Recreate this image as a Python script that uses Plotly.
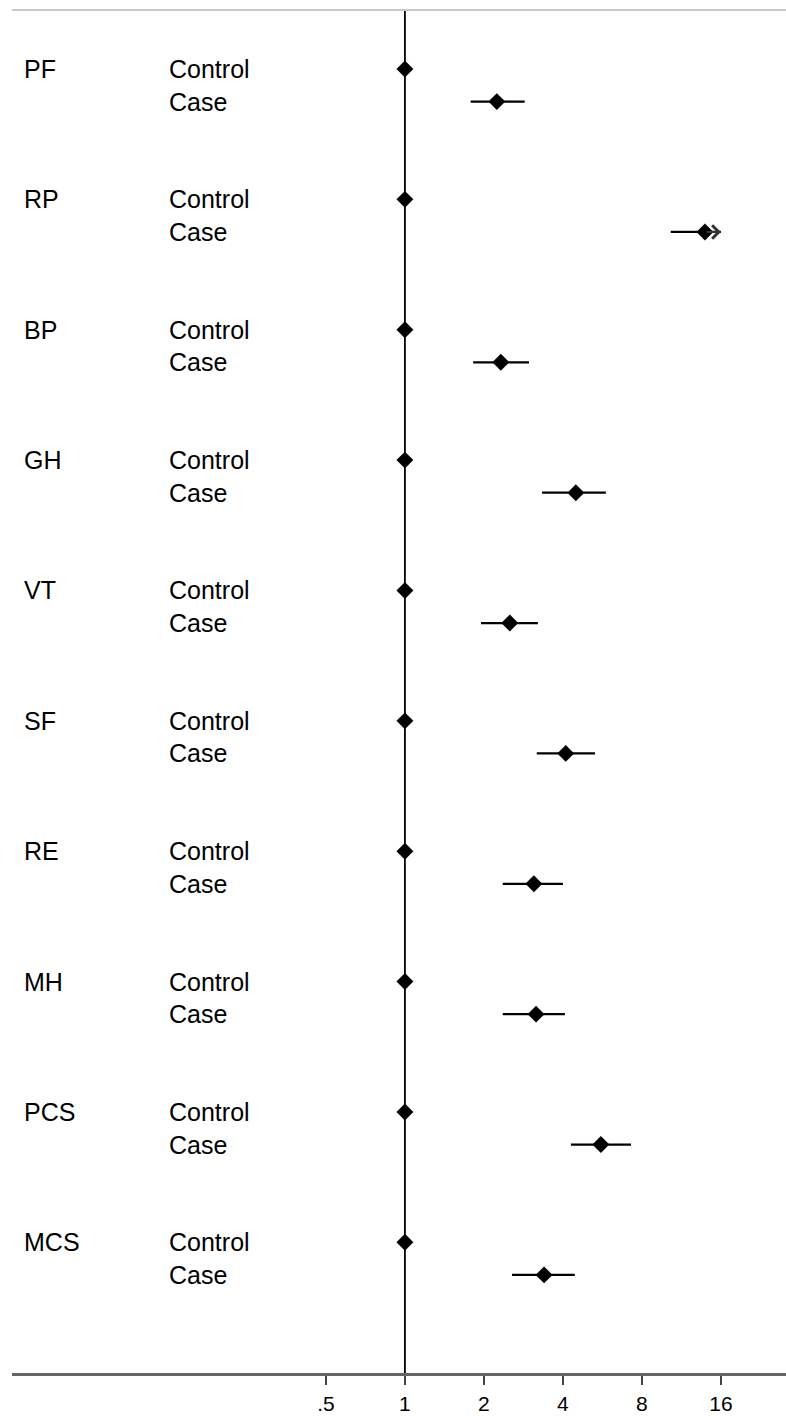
import math
import plotly.graph_objects as go

groups = ["PF", "RP", "BP", "GH", "VT", "SF", "RE", "MH", "PCS", "MCS"]
control_or = [1, 1, 1, 1, 1, 1, 1, 1, 1, 1]
case_or = [2.24, 13.9, 2.32, 4.48, 2.51, 4.10, 3.10, 3.16, 5.58, 3.39]
case_lo = [1.78, 10.3, 1.82, 3.33, 1.95, 3.18, 2.36, 2.36, 4.29, 2.56]
case_hi = [2.86, 20.0, 2.97, 5.83, 3.21, 5.30, 4.00, 4.07, 7.27, 4.44]
tick_vals = [0.5, 1, 2, 4, 8, 16]
tick_text = [".5", "1", "2", "4", "8", "16"]
x_max = 16  # upper limit of the CI display
ref_value = 1

y_top, y_bottom = -1.81, 40.01

fig = go.Figure()

ctrl_y = [4 * i for i in range(len(groups))]
case_y = [4 * i + 1 for i in range(len(groups))]

# reference line at 1
fig.add_trace(go.Scatter(x=[ref_value, ref_value], y=[y_top, y_bottom], mode="lines",
                         line=dict(color="black", width=1.8), showlegend=False,
                         hoverinfo="skip", cliponaxis=False))

# CI lines
for i in range(len(groups)):
    hi = min(case_hi[i], x_max)
    fig.add_trace(go.Scatter(x=[case_lo[i], hi], y=[case_y[i], case_y[i]],
                             mode="lines", line=dict(color="black", width=2.2),
                             showlegend=False, hoverinfo="skip"))
    if case_hi[i] > x_max:
        fig.add_annotation(x=math.log10(x_max), y=case_y[i], xref="x", yref="y",
                           ax=math.log10(case_or[i]), ay=case_y[i], axref="x", ayref="y",
                           showarrow=True, arrowhead=4, arrowsize=1.3, arrowwidth=2,
                           arrowcolor="#333", text="")

fig.add_trace(go.Scatter(x=control_or, y=ctrl_y, mode="markers",
                         marker=dict(symbol="diamond", size=13, color="black"),
                         showlegend=False))
fig.add_trace(go.Scatter(x=case_or, y=case_y, mode="markers",
                         marker=dict(symbol="diamond", size=13, color="black"),
                         showlegend=False))

font = dict(family="Liberation Sans, Arial, sans-serif", size=25, color="#000")
for i, g in enumerate(groups):
    fig.add_annotation(x=0.0129, y=ctrl_y[i], xref="paper", yref="y", text=g,
                       showarrow=False, xanchor="left", yanchor="middle", font=font)
    fig.add_annotation(x=0.2003, y=ctrl_y[i], xref="paper", yref="y", text="Control",
                       showarrow=False, xanchor="left", yanchor="middle", font=font)
    fig.add_annotation(x=0.2003, y=case_y[i], xref="paper", yref="y", text="Case",
                       showarrow=False, xanchor="left", yanchor="middle", font=font)

# top border
fig.add_shape(type="line", xref="paper", yref="paper", x0=0, x1=1, y0=1, y1=1,
              line=dict(color="#c8c8c8", width=2))

fig.update_layout(
    width=786, height=1416,
    margin=dict(l=12, r=0, t=10, b=43),
    plot_bgcolor="white", paper_bgcolor="white",
    xaxis=dict(type="log", range=[-1.497, 1.452], tickvals=tick_vals, ticktext=tick_text,
               showgrid=False, zeroline=False, showline=True, linecolor="#666", linewidth=2.5,
               ticks="outside", ticklen=9, tickwidth=1.8, tickcolor="#444",
               tickfont=dict(family="Liberation Sans, Arial, sans-serif", size=21, color="#000"),
               ticklabelstandoff=1, automargin=False),
    yaxis=dict(range=[y_bottom, y_top], visible=False, showgrid=False, zeroline=False),
)

fig.write_html("out.html", config={"displayModeBar": False},
               post_script="document.body.style.margin='0px';document.body.style.overflow='hidden';")
